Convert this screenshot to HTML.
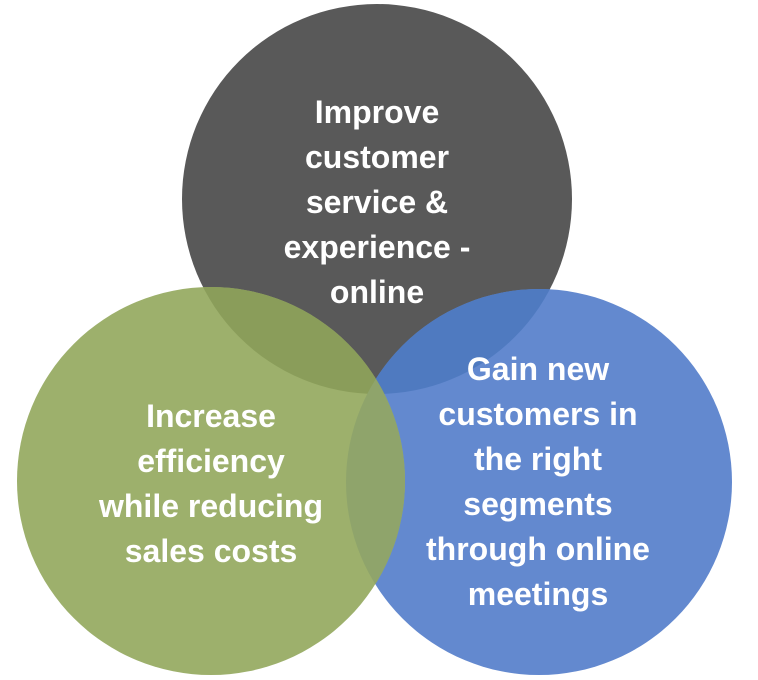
<!DOCTYPE html>
<html><head><style>html,body{margin:0;padding:0;background:#fff;}svg{display:block}</style></head>
<body>
<svg width="758" height="680" viewBox="0 0 758 680" xmlns="http://www.w3.org/2000/svg">
<defs>
<clipPath id="cd"><circle cx="377" cy="199" r="195"/></clipPath>
<clipPath id="cb"><circle cx="539" cy="482" r="193"/></clipPath>
</defs>
<circle cx="377" cy="199" r="195" fill="#595959"/>
<circle cx="539" cy="482" r="193" fill="#6389CF"/>
<circle cx="211" cy="481" r="194" fill="#9DB06C"/>
<g clip-path="url(#cd)">
<circle cx="539" cy="482" r="193" fill="#4F7AC0"/>
<circle cx="211" cy="481" r="194" fill="#8A9D5A"/>
</g>
<g clip-path="url(#cb)">
<circle cx="211" cy="481" r="194" fill="#8FA46B"/>
</g>
<g font-family="'Liberation Sans',sans-serif" font-weight="bold" font-size="32" fill="#fff" text-anchor="middle">
<text x="377" y="123">Improve</text>
<text x="377" y="168">customer</text>
<text x="377" y="213">service &amp;</text>
<text x="377" y="258">experience -</text>
<text x="377" y="303">online</text>
<text x="211" y="427">Increase</text>
<text x="211" y="472">efficiency</text>
<text x="211" y="517">while reducing</text>
<text x="211" y="562">sales costs</text>
<text x="538" y="380">Gain new</text>
<text x="538" y="425">customers in</text>
<text x="538" y="470">the right</text>
<text x="538" y="515">segments</text>
<text x="538" y="560">through online</text>
<text x="538" y="605">meetings</text>
</g>
</svg>
</body></html>
